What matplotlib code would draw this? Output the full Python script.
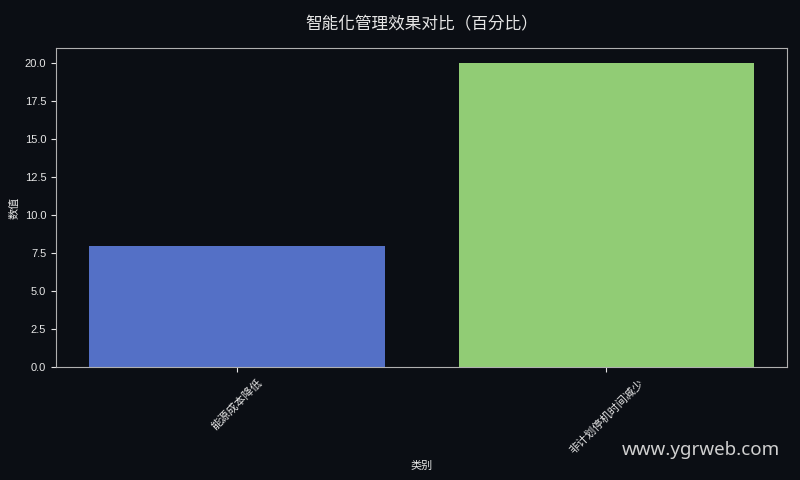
import matplotlib
matplotlib.use('Agg')
import matplotlib.pyplot as plt

plt.rcParams['font.family'] = ['Liberation Sans', 'Noto Sans CJK SC', 'DejaVu Sans']
plt.rcParams['axes.unicode_minus'] = False

# data
categories = ['能源成本降低', '非计划停机时间减少']
values = [8, 20]
colors = ['#5470c6', '#91cc75']

bg = '#0b0e14'
fg = '#e6e6e6'

fig, ax = plt.subplots(figsize=(8, 4.8), dpi=100)
fig.patch.set_facecolor(bg)
ax.set_facecolor(bg)

ax.bar(categories, values, color=colors, width=0.8)

ax.set_title('智能化管理效果对比（百分比）', color=fg, fontsize=12, pad=14,
             family=['Liberation Sans', 'Noto Sans CJK TC', 'DejaVu Sans'])
ax.set_xlabel('类别', color=fg, fontsize=8)
ax.set_ylabel('数值', color=fg, fontsize=8)
ax.tick_params(colors=fg, labelsize=8)
plt.setp(ax.get_xticklabels(), rotation=45)
for s in ax.spines.values():
    s.set_color('#b0b0b0')

fig.text(0.975, 0.052, 'www.ygrweb.com', color='#d0d0d0', fontsize=13.5,
         ha='right', va='baseline', family=['Noto Sans', 'DejaVu Sans'])

fig.subplots_adjust(left=0.07, right=0.984, top=0.9, bottom=0.235)
fig.savefig('out.png', facecolor=bg)
